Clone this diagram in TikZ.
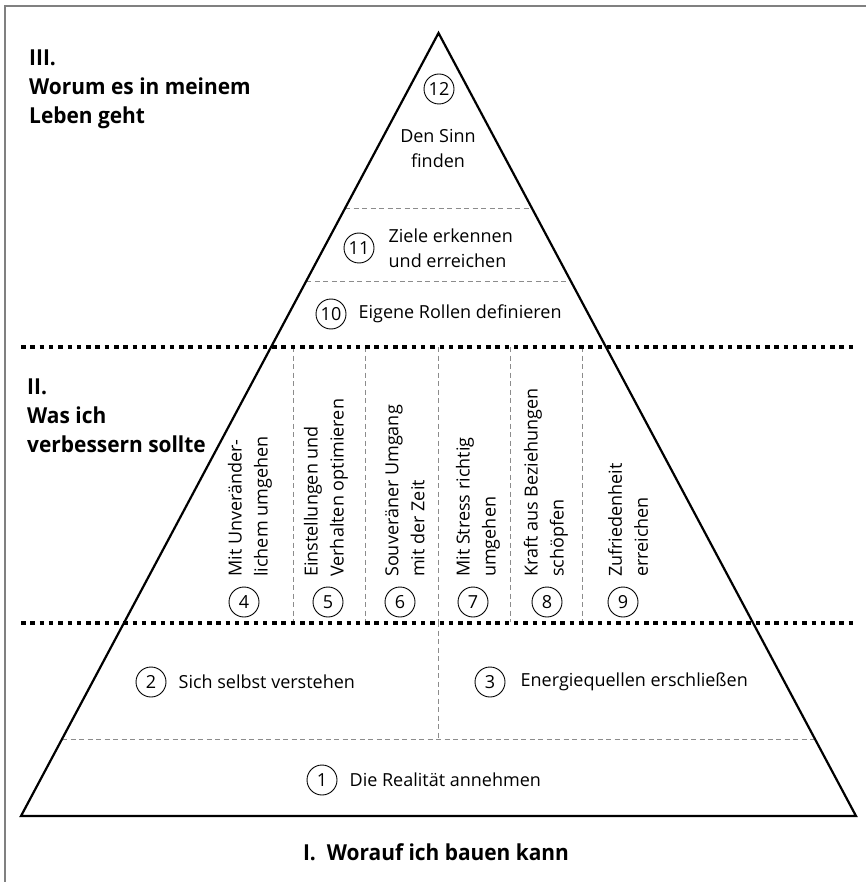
\documentclass[tikz,border=0pt]{standalone}
\usepackage{fontspec}
\setmainfont{Open Sans}[BoldFeatures={FakeStretch=0.95}]
\usetikzlibrary{positioning,calc}

\begin{document}
\begin{tikzpicture}[x=1pt,y=-1pt,
    num/.style={circle,draw,line width=0.9pt,minimum size=30pt,inner sep=0pt,font=\fontsize{18}{22}\selectfont},
    lbl/.style={inner sep=0pt,font=\fontsize{18}{25}\selectfont},
    vlbl/.style={inner sep=0pt,rotate=90,anchor=west,align=left,font=\fontsize{18}{26}\selectfont},
    head/.style={inner sep=0pt,align=left,anchor=north west,font=\bfseries\fontsize{22}{29}\selectfont},
    sepline/.style={line width=4pt,dash pattern=on 4.5pt off 4.8pt},
    thindash/.style={black!45,line width=0.8pt,dash pattern=on 5pt off 3.5pt}]
    \useasboundingbox (0,0) rectangle (866,882);
    \draw [black!50,line width=2.5pt] (5,882)--(5,6)--(866,6);

    \coordinate (apex) at (438.5,33);
    \coordinate (bl) at (21,816);
    \coordinate (br) at (856,816);

    \draw [thindash] ($(bl)!0.7765!(apex)$)--($(br)!0.7765!(apex)$);
    \draw [thindash] ($(bl)!0.6833!(apex)$)--($(br)!0.6833!(apex)$);
    \draw [thindash] ($(bl)!0.0983!(apex)$)--($(br)!0.0983!(apex)$);
    \foreach \x in {293,365,438,510,582}
        \draw [thindash] (\x,347)--(\x,622);
    \draw [thindash] (438,622)--(438,739);

    \draw [line width=2.2pt] (bl)--(apex)--(br)--cycle;
    \draw [sepline] (21,347)--(857,347);
    \draw [sepline] (21,622.5)--(857,622.5);

    \node [head] (h3) at (29,50) {III.\\Worum es in meinem\\Leben geht};
    \node [head] (h2) at (27,379) {II.\\Was ich\\verbessern sollte};
    \node [head,anchor=base] (h1) at (436,860) {I.\enspace Worauf ich bauen kann};

    \node [num] (c12) at (439,89) {12};
    \node [lbl,align=center] (t12) at (438,148) {Den Sinn\\finden};
    \node [num] (c11) at (359,248) {11};
    \node [lbl,align=left,right=14pt of c11] (t11) {Ziele erkennen\\und erreichen};
    \node [num] (c10) at (331,314) {10};
    \node [lbl,right=12pt of c10] (t10) {Eigene Rollen definieren};

    \node [num] (c4) at (244,602) {4};
    \node [num] (c5) at (328,602) {5};
    \node [num] (c6) at (400,602) {6};
    \node [num] (c7) at (473,602) {7};
    \node [num] (c8) at (547,602) {8};
    \node [num] (c9) at (623,602) {9};
    \node [vlbl] (t4) at (250,577) {Mit Unver\"ander-\\lichem umgehen};
    \node [vlbl] (t5) at (326,577) {Einstellungen und\\Verhalten optimieren};
    \node [vlbl] (t6) at (405,577) {Souver\"aner Umgang\\mit der Zeit};
    \node [vlbl] (t7) at (478,577) {Mit Stress richtig\\umgehen};
    \node [vlbl] (t8) at (546,577) {Kraft aus Beziehungen\\sch\"opfen};
    \node [vlbl] (t9) at (628,577) {Zufriedenheit\\erreichen};

    \node [num] (c2) at (151,682) {2};
    \node [lbl,right=12pt of c2] (t2) {Sich selbst verstehen};
    \node [num] (c3) at (490,682) {3};
    \node [lbl,right=15pt of c3] (t3) {Energiequellen erschlie\ss en};
    \node [num] (c1) at (322,780) {1};
    \node [lbl,right=12pt of c1] (t1) {Die Realit\"at annehmen};
\end{tikzpicture}
\end{document}
